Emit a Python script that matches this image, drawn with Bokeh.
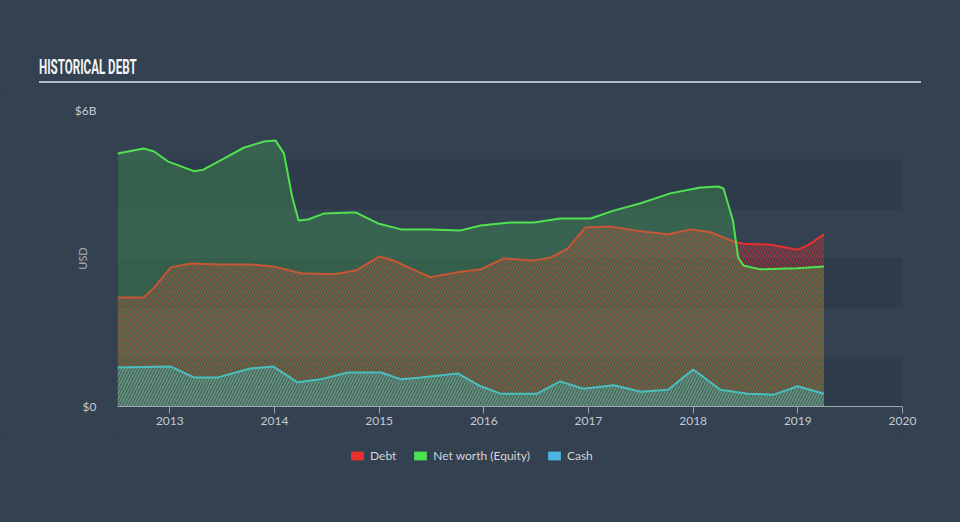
from bokeh.plotting import figure
from bokeh.layouts import column
from bokeh.models import FixedTicker, Legend, LegendItem, BoxAnnotation, ColumnDataSource, Div
from bokeh.embed import file_html
from bokeh.resources import INLINE

# ---- data (values in $B, time in fractional years) ----
equity_t = [2012.50, 2012.75, 2012.85, 2012.98, 2013.23, 2013.32, 2013.52, 2013.71, 2013.90, 2014.01,
            2014.09, 2014.17, 2014.23, 2014.32, 2014.47, 2014.73, 2014.78, 2014.99, 2015.21, 2015.49,
            2015.78, 2015.97, 2016.25, 2016.48, 2016.73, 2017.02, 2017.24, 2017.50, 2017.78, 2018.07,
            2018.24, 2018.29, 2018.38, 2018.43, 2018.48, 2018.64, 2019.00, 2019.25]
equity_v = [5.13, 5.23, 5.17, 4.97, 4.77, 4.80, 5.03, 5.25, 5.37, 5.39,
            5.13, 4.24, 3.77, 3.79, 3.91, 3.93, 3.93, 3.71, 3.59, 3.59,
            3.57, 3.67, 3.73, 3.73, 3.81, 3.81, 3.97, 4.12, 4.32, 4.44,
            4.46, 4.42, 3.77, 3.02, 2.86, 2.78, 2.80, 2.84]

debt_t = [2012.50, 2012.75, 2012.85, 2013.01, 2013.20, 2013.46, 2013.77, 2013.99, 2014.25, 2014.57,
          2014.78, 2015.00, 2015.14, 2015.30, 2015.49, 2015.75, 2015.97, 2016.19, 2016.48, 2016.64,
          2016.80, 2016.97, 2017.21, 2017.50, 2017.76, 2017.98, 2018.17, 2018.39, 2018.48, 2018.74,
          2019.00, 2019.09, 2019.25]
debt_v = [2.21, 2.21, 2.41, 2.82, 2.90, 2.88, 2.88, 2.84, 2.70, 2.68,
          2.76, 3.04, 2.96, 2.80, 2.62, 2.72, 2.78, 3.00, 2.96, 3.02,
          3.20, 3.63, 3.65, 3.55, 3.49, 3.59, 3.53, 3.34, 3.30, 3.28,
          3.18, 3.26, 3.49]

cash_t = [2012.50, 2013.01, 2013.23, 2013.46, 2013.77, 2013.99, 2014.22, 2014.44, 2014.70, 2015.02,
          2015.21, 2015.40, 2015.75, 2015.97, 2016.16, 2016.51, 2016.73, 2016.95, 2017.24, 2017.50,
          2017.76, 2018.00, 2018.26, 2018.52, 2018.77, 2019.00, 2019.25]
cash_v = [0.79, 0.81, 0.59, 0.59, 0.77, 0.81, 0.49, 0.55, 0.69, 0.69,
          0.55, 0.59, 0.67, 0.41, 0.26, 0.26, 0.51, 0.36, 0.43, 0.30,
          0.34, 0.75, 0.34, 0.26, 0.24, 0.41, 0.26]

x_ticks = [2013, 2014, 2015, 2016, 2017, 2018, 2019, 2020]
y_ticks = [0, 6]
y_tick_labels = {0: "$0", 6: "$6B"}
band_bottoms = [0, 2, 4]
band_tops = [1, 3, 5]
series_names = ["Debt", "Net worth (Equity)", "Cash"]
title_text = "HISTORICAL DEBT"
y_label = "USD"

# ---- styles ----
BG = "#334151"
BAND = "#2d3b4a"
RED = "#e8302e"
GREEN = "#50e150"
BLUE = "#48b6de"
TXT = "#c4cad1"
FONT = "Lato"

HEAD_H = 90
FOOT_H = 86
MAIN_H = 522 - HEAD_H - FOOT_H

# ---- header (title + rule) ----
head_html = (
    '<div style="padding-top:57px;margin:0;">'
    '<div style="margin-left:39px;width:882px;height:26px;box-sizing:border-box;'
    'border-bottom:2px solid #b4bac2;overflow:visible;white-space:nowrap;">'
    '<span style="display:inline-block;font-family:Roboto;font-weight:700;font-size:20px;'
    'line-height:20px;color:#f2f4f6;transform:scaleX(0.58);transform-origin:0 50%;">'
    + title_text + '</span></div></div>'
)
head = Div(text=head_html, width=960, height=HEAD_H,
           styles={"background-color": BG, "margin": "0", "padding": "0"})

# ---- main chart ----
p = figure(width=960, height=MAIN_H, x_range=(2012.5, 2020), y_range=(0, 6),
           output_backend="svg", toolbar_location=None,
           min_border_left=117, min_border_right=58, min_border_top=20, min_border_bottom=30,
           background_fill_color=BG, border_fill_color=BG,
           styles={"background-color": BG})
p.outline_line_color = None
p.grid.visible = False

for b, t in zip(band_bottoms, band_tops):
    p.add_layout(BoxAnnotation(bottom=b, top=t, fill_color=BAND, fill_alpha=1.0,
                               line_color=None, level="underlay"))

debt_src = ColumnDataSource(dict(t=debt_t, v=debt_v))
cash_src = ColumnDataSource(dict(t=cash_t, v=cash_v))
eq_src = ColumnDataSource(dict(t=equity_t, v=equity_v))

p.varea(x="t", y1=0, y2="v", source=debt_src, fill_color=RED, fill_alpha=0.08,
        hatch_pattern="/", hatch_color=RED, hatch_alpha=0.5, hatch_scale=6, hatch_weight=1.5)
p.varea(x="t", y1=0, y2="v", source=cash_src, fill_color=BLUE, fill_alpha=0.1,
        hatch_pattern="/", hatch_color=BLUE, hatch_alpha=0.5, hatch_scale=6, hatch_weight=1.5)
p.line(x="t", y="v", source=debt_src, line_color=RED, line_width=2)
p.line(x="t", y="v", source=cash_src, line_color=BLUE, line_width=2)
p.varea(x="t", y1=0, y2="v", source=eq_src, fill_color=GREEN, fill_alpha=0.22)
p.line(x="t", y="v", source=eq_src, line_color=GREEN, line_width=2)

xa = p.xaxis[0]
xa.ticker = FixedTicker(ticks=x_ticks)
xa.minor_tick_line_color = None
xa.major_tick_in = 0
xa.major_tick_out = 7
xa.axis_line_color = "#9ea7b1"
xa.major_tick_line_color = "#9ea7b1"
xa.major_label_text_color = TXT
xa.major_label_text_font = FONT
xa.major_label_text_font_size = "12px"
xa.major_label_standoff = 3

ya = p.yaxis[0]
ya.ticker = FixedTicker(ticks=y_ticks)
ya.major_label_overrides = y_tick_labels
ya.axis_line_color = None
ya.major_tick_line_color = None
ya.minor_tick_line_color = None
ya.major_label_text_color = TXT
ya.major_label_text_font = FONT
ya.major_label_text_font_size = "12px"
ya.major_label_standoff = 15
ya.axis_label = y_label
ya.axis_label_text_font = FONT
ya.axis_label_text_font_style = "normal"
ya.axis_label_text_font_size = "11px"
ya.axis_label_text_color = "#aab1b9"
ya.axis_label_standoff = -17

# ---- footer (legend) ----
foot = figure(width=960, height=FOOT_H, x_range=(2012.5, 2020), y_range=(0, 6),
              x_axis_location=None, y_axis_location=None, min_border=0,
              output_backend="svg", toolbar_location=None,
              background_fill_color=BG, border_fill_color=BG,
              styles={"background-color": BG})
foot.outline_line_color = None
foot.grid.visible = False
sw_debt = foot.varea(x="t", y1=0, y2="v", source=debt_src, fill_color=RED, visible=False)
sw_eq = foot.varea(x="t", y1=0, y2="v", source=eq_src, fill_color=GREEN, visible=False)
sw_cash = foot.varea(x="t", y1=0, y2="v", source=cash_src, fill_color=BLUE, visible=False)

legend = Legend(items=[LegendItem(label=series_names[0], renderers=[sw_debt]),
                       LegendItem(label=series_names[1], renderers=[sw_eq]),
                       LegendItem(label=series_names[2], renderers=[sw_cash])],
                orientation="horizontal", location=(232, 59),
                glyph_width=16, glyph_height=11, label_standoff=5, spacing=16,
                padding=0, margin=0, label_height=14,
                background_fill_alpha=0, border_line_color=None,
                label_text_color="#d0d5da", label_text_font=FONT, label_text_font_size="12px")
foot.add_layout(legend)

layout = column(head, p, foot, spacing=0, styles={"background-color": BG})
open("out.html", "w").write(file_html(layout, INLINE))
